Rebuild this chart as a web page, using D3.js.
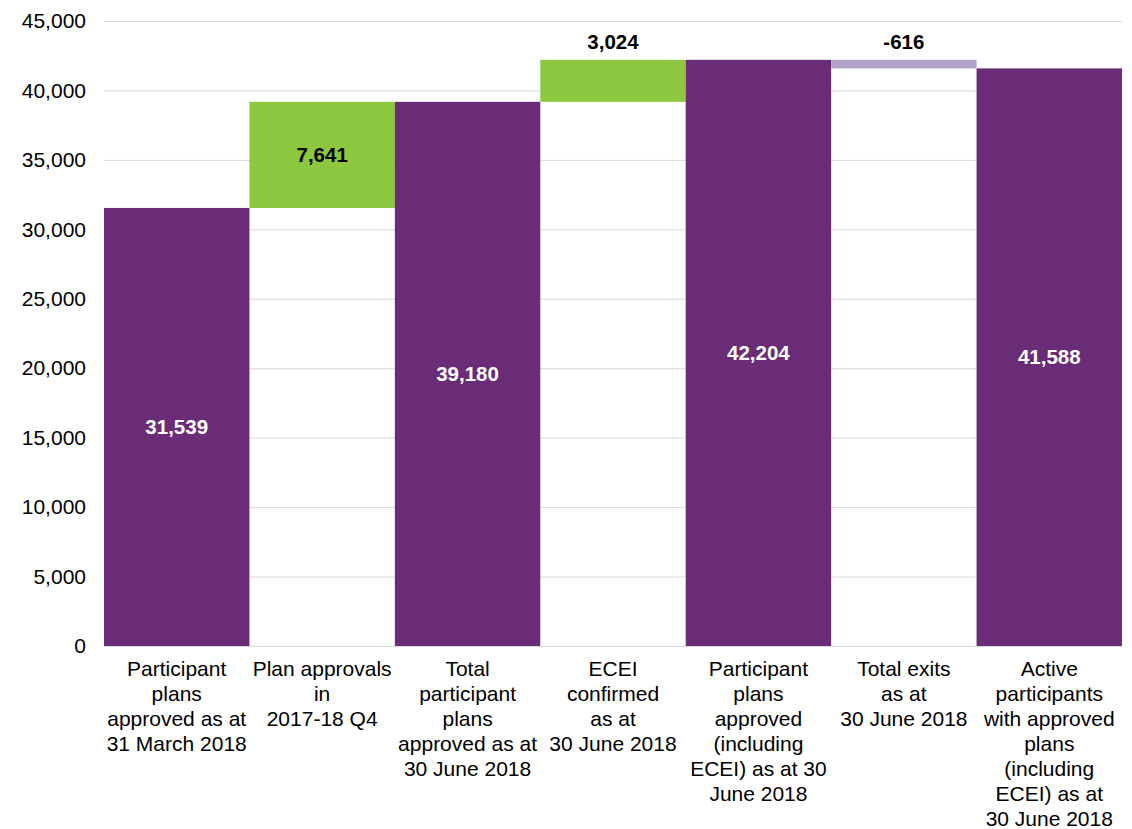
<!DOCTYPE html>
<html>
<head>
<meta charset="utf-8">
<script src="https://cdn.jsdelivr.net/npm/d3@7"></script>
<style>
  body { margin: 0; background: #fff; }
  text { font-family: "Liberation Sans", Arial, sans-serif; }
</style>
</head>
<body>
<script>
// waterfall data
var categories = [
    "Participant\nplans\napproved as at\n31 March 2018",
    "Plan approvals\nin\n2017-18 Q4",
    "Total\nparticipant\nplans\napproved as at\n30 June 2018",
    "ECEI\nconfirmed\nas at\n30 June 2018",
    "Participant\nplans\napproved\n(including\nECEI) as at 30\nJune 2018",
    "Total exits\nas at\n30 June 2018",
    "Active\nparticipants\nwith approved\nplans\n(including\nECEI) as at\n30 June 2018"
];
var values = [31539, 7641, 39180, 3024, 42204, -616, 41588];
var kinds = ["total", "increase", "total", "increase", "total", "decrease", "total"];
var yTicks = [0, 5000, 10000, 15000, 20000, 25000, 30000, 35000, 40000, 45000];

var width = 1132,
    height = 829,
    margin = { top: 21, right: 10, bottom: 183, left: 104 };

var colors = { total: "#6a2c77", increase: "#8dc63f", decrease: "#b3a2c9" };

// running start / end for each bar
var running = 0;
var bars = values.map(function (v, i) {
    var b = { name: categories[i], value: v, kind: kinds[i] };
    if (kinds[i] == "total") {
        b.start = 0;
        b.end = v;
        running = v;
    } else {
        b.start = running;
        b.end = running + v;
        running = b.end;
    }
    return b;
});

var svg = d3.select("body").append("svg")
    .attr("width", width)
    .attr("height", height);

var x = d3.scaleBand()
    .domain(categories)
    .range([margin.left, width - margin.right])
    .padding(0);

var y = d3.scaleLinear()
    .domain([0, 45000])
    .range([height - margin.bottom, margin.top]);

// gridlines
svg.append("g")
    .selectAll("line")
    .data(yTicks)
    .enter().append("line")
    .attr("x1", margin.left)
    .attr("x2", width - margin.right)
    .attr("y1", function (d) { return y(d) + 0.5; })
    .attr("y2", function (d) { return y(d) + 0.5; })
    .attr("stroke", "#d9d9d9")
    .attr("stroke-width", 1);

// y axis labels
var yAxis = d3.axisLeft(y)
    .tickValues(yTicks)
    .tickFormat(d3.format(","))
    .tickSize(0)
    .tickPadding(18);

svg.append("g")
    .attr("transform", "translate(" + margin.left + ",0)")
    .call(yAxis)
    .call(function (g) { g.select(".domain").remove(); })
    .selectAll("text")
    .attr("font-size", "21px")
    .attr("font-family", "Liberation Sans, Arial, sans-serif")
    .attr("fill", "#000");

// bars
svg.append("g")
    .selectAll("rect")
    .data(bars)
    .enter().append("rect")
    .attr("x", function (d) { return x(d.name); })
    .attr("width", x.bandwidth())
    .attr("y", function (d) { return y(Math.max(d.start, d.end)); })
    .attr("height", function (d) { return Math.abs(y(d.start) - y(d.end)); })
    .attr("fill", function (d) { return colors[d.kind]; });

// value labels (hyphen minus like the original)
var fmt = function (v) { return d3.format(",")(v).replace("\u2212", "-"); };
svg.append("g")
    .selectAll("text")
    .data(bars)
    .enter().append("text")
    .attr("x", function (d) { return x(d.name) + x.bandwidth() / 2; })
    .attr("y", function (d) {
        var top = y(Math.max(d.start, d.end));
        var h = Math.abs(y(d.start) - y(d.end));
        if (h < 60) return top - 11;
        return top + h / 2;
    })
    .attr("dy", function (d) {
        var h = Math.abs(y(d.start) - y(d.end));
        return h < 60 ? "0" : "0.35em";
    })
    .attr("text-anchor", "middle")
    .attr("font-size", "20.5px")
    .attr("font-weight", "bold")
    .attr("fill", function (d) { return d.kind == "total" ? "#fff" : "#000"; })
    .text(function (d) { return fmt(d.value); });

// x axis baseline
svg.append("line")
    .attr("x1", margin.left)
    .attr("x2", width - margin.right)
    .attr("y1", y(0) + 0.5)
    .attr("y2", y(0) + 0.5)
    .attr("stroke", "#d9d9d9");

// category labels, multi-line
var lab = svg.append("g")
    .selectAll("text")
    .data(categories)
    .enter().append("text")
    .attr("text-anchor", "middle")
    .attr("font-size", "21px")
    .attr("fill", "#000");

lab.each(function (d) {
    var t = d3.select(this);
    d.split("\n").forEach(function (line, j) {
        t.append("tspan")
            .attr("x", x(d) + x.bandwidth() / 2)
            .attr("y", y(0) + 30 + j * 25)
            .text(line);
    });
});
</script>
</body>
</html>
